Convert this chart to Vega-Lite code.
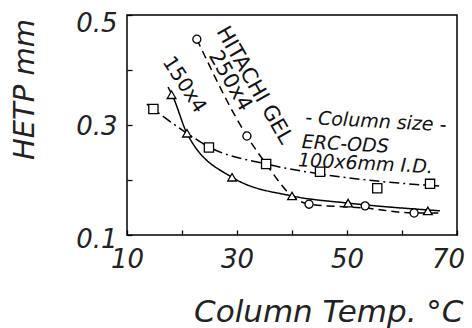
{
  "$schema": "https://vega.github.io/schema/vega-lite/v6.json",
  "width": 330,
  "height": 220,
  "autosize": {"type": "none"},
  "padding": {"left": 127, "top": 15, "right": 15, "bottom": 93},
  "background": "white",
  "config": {"view": {"stroke": "black", "strokeWidth": 1.5}, "font": "DejaVu Sans"},
  "datasets": {
    "curves": [
      {"series": "ERC-ODS 100x6", "temp": 13.6, "hetp": 0.338},
      {"series": "ERC-ODS 100x6", "temp": 20.9, "hetp": 0.285},
      {"series": "ERC-ODS 100x6", "temp": 24.9, "hetp": 0.26},
      {"series": "ERC-ODS 100x6", "temp": 35.3, "hetp": 0.229},
      {"series": "ERC-ODS 100x6", "temp": 45.1, "hetp": 0.211},
      {"series": "ERC-ODS 100x6", "temp": 55.5, "hetp": 0.198},
      {"series": "ERC-ODS 100x6", "temp": 66.9, "hetp": 0.189},
      {"series": "HITACHI GEL 150x4", "temp": 17.45, "hetp": 0.369},
      {"series": "HITACHI GEL 150x4", "temp": 18.2, "hetp": 0.355},
      {"series": "HITACHI GEL 150x4", "temp": 20.9, "hetp": 0.285},
      {"series": "HITACHI GEL 150x4", "temp": 29.1, "hetp": 0.205},
      {"series": "HITACHI GEL 150x4", "temp": 40.0, "hetp": 0.171},
      {"series": "HITACHI GEL 150x4", "temp": 50.2, "hetp": 0.158},
      {"series": "HITACHI GEL 150x4", "temp": 66.9, "hetp": 0.144},
      {"series": "HITACHI GEL 250x4", "temp": 22.7, "hetp": 0.456},
      {"series": "HITACHI GEL 250x4", "temp": 31.8, "hetp": 0.28},
      {"series": "HITACHI GEL 250x4", "temp": 35.3, "hetp": 0.229},
      {"series": "HITACHI GEL 250x4", "temp": 40.0, "hetp": 0.171},
      {"series": "HITACHI GEL 250x4", "temp": 43.1, "hetp": 0.156},
      {"series": "HITACHI GEL 250x4", "temp": 53.3, "hetp": 0.149},
      {"series": "HITACHI GEL 250x4", "temp": 62.2, "hetp": 0.14},
      {"series": "HITACHI GEL 250x4", "temp": 66.9, "hetp": 0.14}
    ],
    "points": [
      {"series": "ERC-ODS 100x6", "temp": 14.8, "hetp": 0.329},
      {"series": "ERC-ODS 100x6", "temp": 24.9, "hetp": 0.259},
      {"series": "ERC-ODS 100x6", "temp": 35.3, "hetp": 0.229},
      {"series": "ERC-ODS 100x6", "temp": 45.1, "hetp": 0.215},
      {"series": "ERC-ODS 100x6", "temp": 55.5, "hetp": 0.185},
      {"series": "ERC-ODS 100x6", "temp": 65.1, "hetp": 0.193},
      {"series": "HITACHI GEL 150x4", "temp": 18.1, "hetp": 0.355},
      {"series": "HITACHI GEL 150x4", "temp": 20.9, "hetp": 0.285},
      {"series": "HITACHI GEL 150x4", "temp": 29.1, "hetp": 0.205},
      {"series": "HITACHI GEL 150x4", "temp": 40.0, "hetp": 0.171},
      {"series": "HITACHI GEL 150x4", "temp": 50.2, "hetp": 0.158},
      {"series": "HITACHI GEL 150x4", "temp": 64.7, "hetp": 0.144},
      {"series": "HITACHI GEL 250x4", "temp": 22.7, "hetp": 0.456},
      {"series": "HITACHI GEL 250x4", "temp": 31.8, "hetp": 0.28},
      {"series": "HITACHI GEL 250x4", "temp": 43.1, "hetp": 0.156},
      {"series": "HITACHI GEL 250x4", "temp": 53.3, "hetp": 0.153},
      {"series": "HITACHI GEL 250x4", "temp": 62.2, "hetp": 0.14}
    ],
    "notes": [
      {"group": "gel", "text": "HITACHI GEL", "temp": 33.1, "hetp": 0.372},
      {"group": "gel", "text": "250x4", "temp": 28.7, "hetp": 0.38},
      {"group": "short", "text": "150x4", "temp": 20.4, "hetp": 0.373},
      {"group": "size", "text": "- Column size -", "temp": 42.4, "hetp": 0.313},
      {"group": "size", "text": "ERC-ODS", "temp": 41.8, "hetp": 0.269},
      {"group": "size", "text": "100x6mm I.D.", "temp": 41.1, "hetp": 0.236}
    ]
  },
  "encoding": {
    "x": {
      "field": "temp", "type": "quantitative",
      "scale": {"domain": [10, 70], "nice": false, "zero": false},
      "axis": {
        "values": [10, 20, 30, 40, 50, 60, 70],
        "labelExpr": "(datum.value == 10 || datum.value == 30 || datum.value == 50 || datum.value == 70) ? datum.label : ''",
        "domain": false, "grid": false,
        "tickSize": -5, "tickColor": "black", "tickWidth": 1.3,
        "labelFont": "DejaVu Sans", "labelFontStyle": "italic", "labelFontSize": 26,
        "labelColor": "#222", "labelPadding": 16, "labelFlush": false, "labelOverlap": false,
        "labelBaseline": "top",
        "labelOffset": {"condition": {"test": "datum.value == 70", "value": -9}, "value": 0},
        "title": "Column Temp. °C",
        "titleFont": "DejaVu Sans", "titleFontStyle": "italic", "titleFontWeight": "normal",
        "titleFontSize": 31, "titleColor": "#222",
        "titleAlign": "right", "titleX": 336, "titleY": 86, "titleBaseline": "alphabetic"
      }
    },
    "y": {
      "field": "hetp", "type": "quantitative",
      "scale": {"domain": [0.1, 0.5], "nice": false, "zero": false},
      "axis": {
        "values": [0.1, 0.2, 0.3, 0.4, 0.5],
        "format": ".1f",
        "labelExpr": "(datum.label == '0.1' || datum.label == '0.3' || datum.label == '0.5') ? datum.label : ''",
        "domain": false, "grid": false,
        "tickSize": -5, "tickColor": "black", "tickWidth": 1.3,
        "labelFont": "DejaVu Sans", "labelFontStyle": "italic", "labelFontSize": 26,
        "labelColor": "#222", "labelPadding": 15, "labelFlush": false, "labelOverlap": false,
        "labelBaseline": "middle",
        "labelOffset": {"condition": [{"test": "datum.value == 0.5", "value": 8}, {"test": "datum.value == 0.1", "value": 4}], "value": 1},
        "title": "HETP mm",
        "titleFont": "DejaVu Sans", "titleFontStyle": "italic", "titleFontWeight": "normal",
        "titleFontSize": 29, "titleColor": "#222",
        "titleAngle": -90, "titleAlign": "center", "titleBaseline": "alphabetic",
        "titleX": -94, "titleY": 74
      }
    }
  },
  "layer": [
    {
      "data": {"name": "curves"},
      "mark": {"type": "line", "interpolate": "monotone", "strokeWidth": 1.5, "color": "black"},
      "encoding": {
        "detail": {"field": "series"},
        "strokeDash": {
          "field": "series", "type": "nominal",
          "scale": {"domain": ["ERC-ODS 100x6", "HITACHI GEL 150x4", "HITACHI GEL 250x4"], "range": [[10, 4, 2, 4], [1, 0], [8, 5]]},
          "legend": null
        }
      }
    },
    {
      "data": {"name": "points"},
      "mark": {"type": "point", "filled": true, "fill": "white", "stroke": "black", "strokeWidth": 1.3, "opacity": 1},
      "encoding": {
        "shape": {
          "field": "series", "type": "nominal",
          "scale": {"domain": ["ERC-ODS 100x6", "HITACHI GEL 150x4", "HITACHI GEL 250x4"], "range": ["square", "triangle-up", "circle"]},
          "legend": null
        },
        "size": {
          "field": "series", "type": "ordinal",
          "scale": {"domain": ["ERC-ODS 100x6", "HITACHI GEL 150x4", "HITACHI GEL 250x4"], "range": [85, 65, 60]},
          "legend": null
        }
      }
    },
    {
      "data": {"name": "notes"},
      "transform": [{"filter": "datum.group == 'gel'"}],
      "mark": {"type": "text", "angle": 60, "font": "DejaVu Sans", "fontSize": 21, "align": "center", "baseline": "middle", "color": "#111"},
      "encoding": {"text": {"field": "text"}}
    },
    {
      "data": {"name": "notes"},
      "transform": [{"filter": "datum.group == 'short'"}],
      "mark": {"type": "text", "angle": 57, "font": "DejaVu Sans", "fontSize": 20, "align": "center", "baseline": "middle", "color": "#111"},
      "encoding": {"text": {"field": "text"}}
    },
    {
      "data": {"name": "notes"},
      "transform": [{"filter": "datum.group == 'size'"}],
      "mark": {"type": "text", "angle": 3, "font": "DejaVu Sans", "fontStyle": "italic", "fontSize": 19, "align": "left", "baseline": "middle", "color": "#111"},
      "encoding": {"text": {"field": "text"}}
    }
  ]
}
